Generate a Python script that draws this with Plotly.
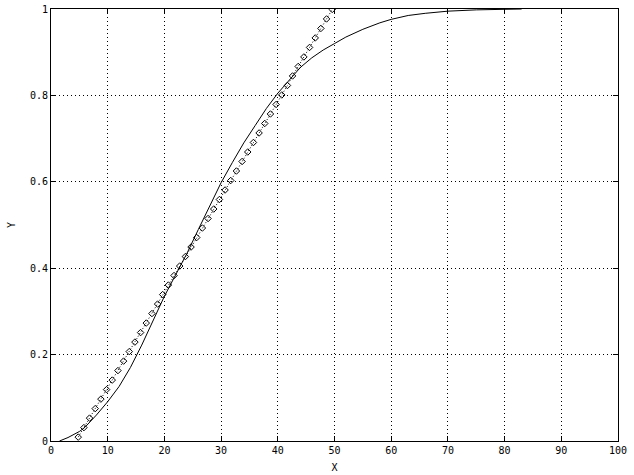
import plotly.graph_objects as go

# Solid curve
curve_x = [1.5, 3, 5, 6, 8, 10, 12, 14, 16, 18, 20, 22, 24, 26, 28, 30, 32, 34, 36, 38,
           40, 42, 44, 46, 48, 50, 52, 55, 58, 60, 63, 66, 70, 75, 80, 83]
curve_y = [0.000, 0.008, 0.022, 0.032, 0.060, 0.091, 0.126, 0.170, 0.222, 0.278, 0.335,
           0.385, 0.435, 0.490, 0.545, 0.598, 0.645, 0.690, 0.730, 0.770, 0.805, 0.835,
           0.865, 0.887, 0.905, 0.920, 0.935, 0.953, 0.968, 0.976, 0.985, 0.990, 0.995,
           0.998, 1.000, 1.000]

# Dotted series with point markers
pts_x = [4.8, 5.8, 6.8, 7.8, 8.8, 9.8, 10.8, 11.8, 12.8, 13.8, 14.8, 15.8, 16.8, 17.8,
         18.8, 19.7, 20.7, 21.7, 22.7, 23.7, 24.7, 25.7, 26.7, 27.7, 28.7, 29.7, 30.7,
         31.7, 32.7, 33.7, 34.7, 35.7, 36.7, 37.7, 38.7, 39.7, 40.7, 41.7, 42.6, 43.6,
         44.6, 45.6, 46.6, 47.6, 48.6, 49.6]
pts_y = [0.009, 0.031, 0.053, 0.075, 0.097, 0.119, 0.141, 0.163, 0.185, 0.207, 0.229,
         0.251, 0.273, 0.295, 0.317, 0.339, 0.361, 0.383, 0.405, 0.427, 0.449, 0.471,
         0.493, 0.515, 0.537, 0.559, 0.581, 0.603, 0.625, 0.647, 0.669, 0.691, 0.713,
         0.735, 0.757, 0.779, 0.801, 0.823, 0.845, 0.867, 0.889, 0.911, 0.933, 0.955,
         0.977, 0.999]

x_ticks = [0, 10, 20, 30, 40, 50, 60, 70, 80, 90, 100]
y_ticks = [0, 0.2, 0.4, 0.6, 0.8, 1]
y_tick_text = ["0", "0.2", "0.4", "0.6", "0.8", "1"]

fig = go.Figure()
fig.add_trace(go.Scatter(x=curve_x, y=curve_y, mode="lines",
                         line=dict(color="black", width=1), showlegend=False))
fig.add_trace(go.Scatter(x=pts_x, y=pts_y, mode="lines+markers",
                         line=dict(color="black", width=1, dash="1px,2px"),
                         marker=dict(symbol="diamond-open", size=5, color="black",
                                     line=dict(width=1, color="black")),
                         showlegend=False))

font = dict(family="DejaVu Sans Mono", size=10, color="black")
axis_common = dict(showline=True, linecolor="black", linewidth=1, mirror="allticks",
                   ticks="inside", ticklen=5, tickcolor="black",
                   showgrid=True, gridcolor="black", griddash="1px,3px", gridwidth=1,
                   zeroline=False, tickfont=font, automargin=False)

fig.update_xaxes(range=[0, 100], tickvals=x_ticks, title=dict(text="X", font=font, standoff=8),
                 **axis_common)
fig.update_yaxes(range=[0, 1], tickvals=y_ticks, ticktext=y_tick_text,
                 title=dict(text="Y", font=font, standoff=12), **axis_common)

fig.update_layout(width=634, height=475, margin=dict(l=51, r=16, t=9, b=34),
                  plot_bgcolor="white", paper_bgcolor="white", font=font,
                  hovermode=False)

fig.write_html("out.html", config={"displayModeBar": False, "staticPlot": True},
               post_script="document.body.style.margin='0';document.body.style.overflow='hidden';")
